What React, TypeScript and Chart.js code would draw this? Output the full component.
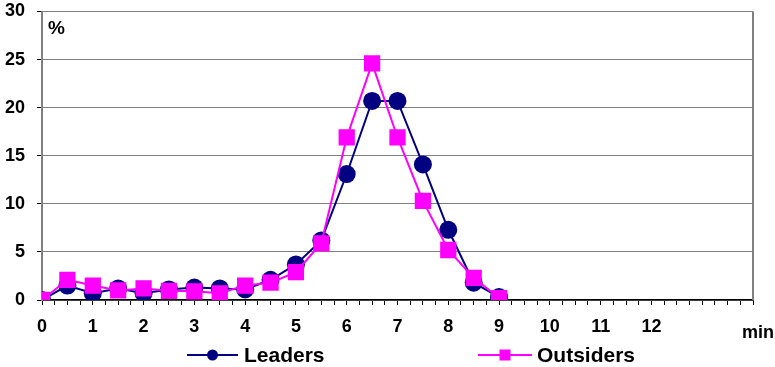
import React, { useEffect, useRef } from "react";
import { Chart, registerables } from "chart.js";

Chart.register(...registerables);

const minutes = [0, 0.5, 1, 1.5, 2, 2.5, 3, 3.5, 4, 4.5, 5, 5.5, 6, 6.5, 7, 7.5, 8, 8.5, 9];
const leaders = [0, 1.5, 0.7, 1.2, 0.7, 1.1, 1.3, 1.2, 1.1, 2.1, 3.7, 6.2, 13.1, 20.7, 20.7, 14.1, 7.3, 1.8, 0.3];
const outsiders = [0, 2.1, 1.5, 1.0, 1.2, 0.95, 0.9, 0.7, 1.5, 1.8, 2.9, 5.9, 16.9, 24.6, 16.9, 10.3, 5.2, 2.3, 0.2];
const xTickLabels = ["0", "1", "2", "3", "4", "5", "6", "7", "8", "9", "10", "11", "12"];
const seriesNames = ["Leaders", "Outsiders"];
const seriesColors = ["#000080", "#FF00FF"];

const FONT = '"Liberation Sans", Arial, sans-serif';

const extrasPlugin = {
  id: "extras",
  afterDraw(chart: any) {
    const ctx = chart.ctx;
    const area = chart.chartArea;
    ctx.save();
    // right border
    ctx.strokeStyle = "#808080";
    ctx.lineWidth = 2;
    ctx.beginPath();
    ctx.moveTo(area.right, area.top);
    ctx.lineTo(area.right, area.bottom);
    ctx.stroke();

    // % label
    ctx.fillStyle = "#000";
    ctx.font = `bold 19px ${FONT}`;
    ctx.textAlign = "left";
    ctx.textBaseline = "middle";
    ctx.fillText("%", 48, 29);

    // min label
    ctx.font = `bold 18px ${FONT}`;
    ctx.textAlign = "right";
    ctx.fillText("min", 774, 333);

    // legend
    const items = [
      { x0: 187, x1: 238, tx: 244, style: "circle" },
      { x0: 478, x1: 532, tx: 537, style: "rect" },
    ];
    const ly = 355;
    items.forEach((it, i) => {
      ctx.strokeStyle = seriesColors[i];
      ctx.fillStyle = seriesColors[i];
      ctx.lineWidth = 2;
      ctx.beginPath();
      ctx.moveTo(it.x0, ly);
      ctx.lineTo(it.x1, ly);
      ctx.stroke();
      const cx = (it.x0 + it.x1) / 2;
      if (it.style === "circle") {
        ctx.beginPath();
        ctx.arc(cx, ly, 5.5, 0, Math.PI * 2);
        ctx.fill();
      } else {
        ctx.fillRect(cx - 5.5, ly - 5.5, 11, 11);
      }
      ctx.fillStyle = "#000";
      ctx.font = `bold 21px ${FONT}`;
      ctx.textAlign = "left";
      ctx.textBaseline = "middle";
      ctx.fillText(seriesNames[i], it.tx, ly + 1);
    });
    ctx.restore();
  },
};

export default function App() {
  const canvasRef = useRef<HTMLCanvasElement | null>(null);

  useEffect(() => {
    if (!canvasRef.current) return;
    const chart = new Chart(canvasRef.current, {
      type: "line",
      data: {
        datasets: [
          {
            label: seriesNames[0],
            data: minutes.map((m, i) => ({ x: m, y: leaders[i] })),
            borderColor: seriesColors[0],
            backgroundColor: seriesColors[0],
            borderWidth: 2,
            pointStyle: "circle",
            pointRadius: 9,
            pointBorderWidth: 0,
            order: 2,
          },
          {
            label: seriesNames[1],
            data: minutes.map((m, i) => ({ x: m, y: outsiders[i] })),
            borderColor: seriesColors[1],
            backgroundColor: seriesColors[1],
            borderWidth: 2,
            pointStyle: "rect",
            pointRadius: 11.5,
            pointBorderWidth: 0,
            order: 1,
          },
        ],
      },
      options: {
        animation: false,
        responsive: false,
        maintainAspectRatio: false,
        layout: { padding: { left: 0, right: 22, top: 10, bottom: 0 } },
        plugins: { legend: { display: false }, tooltip: { enabled: false } },
        scales: {
          x: {
            type: "linear",
            min: 0,
            max: 14,
            afterFit: (scale: any) => {
              scale.height = 67;
              scale.paddingLeft = 0;
              scale.paddingRight = 0;
            },
            ticks: {
              stepSize: 0.25,
              autoSkip: false,
              maxRotation: 0,
              padding: 11,
              color: "#000",
              font: { family: FONT, size: 18, weight: "bold" },
              callback: (v: any) => {
                const n = Number(v);
                if (Number.isInteger(n) && n < xTickLabels.length) return xTickLabels[n];
                return "";
              },
            },
            grid: {
              drawOnChartArea: false,
              drawTicks: true,
              tickLength: 5,
              tickColor: "#000",
            },
            border: { color: "#000", width: 1.5 },
          },
          y: {
            min: 0,
            max: 30,
            afterFit: (scale: any) => {
              scale.width = 42;
              scale.paddingTop = 0;
              scale.paddingBottom = 0;
            },
            ticks: {
              stepSize: 5,
              padding: 12,
              color: "#000",
              font: { family: FONT, size: 18, weight: "bold" },
            },
            grid: {
              color: "#808080",
              lineWidth: 1,
              tickLength: 5,
              tickColor: "#000",
            },
            border: { color: "#808080", width: 2 },
          },
        },
      },
      plugins: [extrasPlugin],
    });
    return () => chart.destroy();
  }, []);

  return (
    <div style={{ position: "absolute", left: 0, top: 0, width: 775, height: 367, background: "#fff" }}>
      <canvas ref={canvasRef} width={775} height={367} style={{ width: 775, height: 367 }} />
    </div>
  );
}
